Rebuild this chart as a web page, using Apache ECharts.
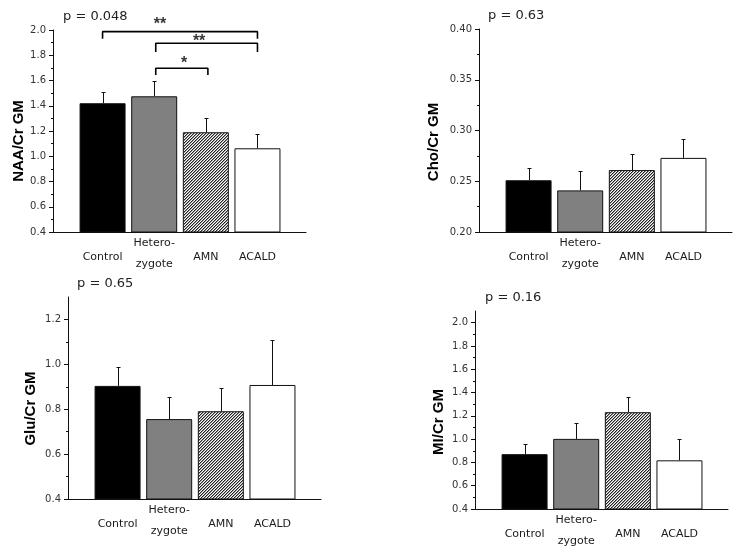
<!DOCTYPE html>
<html><head><meta charset="utf-8">
<script src="https://cdn.jsdelivr.net/npm/echarts@6/dist/echarts.min.js"></script>
<style>html,body{margin:0;padding:0;background:#fff}#c{width:739px;height:558px}</style>
</head><body><div id="c"></div>
<script>
// ---- data ----
const categories = ['Control', 'Hetero-\nzygote', 'AMN', 'ACALD'];
const naaMean = [1.42, 1.475, 1.19, 1.063];
const naaErr  = [1.505, 1.594, 1.30, 1.176];
const choMean = [0.251, 0.241, 0.261, 0.273];
const choErr  = [0.263, 0.260, 0.277, 0.292];
const gluMean = [0.904, 0.756, 0.791, 0.908];
const gluErr  = [0.989, 0.856, 0.893, 1.108];
const miMean  = [0.871, 1.002, 1.231, 0.818];
const miErr   = [0.958, 1.142, 1.362, 1.005];
const pValues = ['p = 0.048', 'p = 0.63', 'p = 0.65', 'p = 0.16'];
const yTitles = ['NAA/Cr GM', 'Cho/Cr GM', 'Glu/Cr GM', 'MI/Cr GM'];
const naaTicks = [0.4, 0.6, 0.8, 1.0, 1.2, 1.4, 1.6, 1.8, 2.0];
const choTicks = [0.20, 0.25, 0.30, 0.35, 0.40];
const gluTicks = [0.4, 0.6, 0.8, 1.0, 1.2];
const miTicks  = [0.4, 0.6, 0.8, 1.0, 1.2, 1.4, 1.6, 1.8, 2.0];
// significance brackets: [fromX, toX, barY, legY]
const naaBrackets = [[1, 4, 1.987, 1.93], [2.03, 4, 1.895, 1.826], [2.03, 3.04, 1.697, 1.644]];
const naaStars = [[2.11, 2.045, '**'], [2.87, 1.905, '**'], [2.58, 1.735, '*']];

// ---- hatch pattern ----
function makeHatch() {
  const c = document.createElement('canvas');
  c.width = 3; c.height = 3;
  const g = c.getContext('2d');
  g.fillStyle = '#fff'; g.fillRect(0, 0, 3, 3);
  for (let y = 0; y < 3; y++) {
    const x = (2 - y + 3) % 3;
    g.fillStyle = '#222';
    g.fillRect(x, y, 1, 1);
    g.fillStyle = '#9a9a9a';
    g.fillRect((x + 1) % 3, y, 1, 1);
  }
  return c;
}
const hatch = { image: makeHatch(), repeat: 'repeat' };
const fills = ['#000000', '#808080', hatch, '#ffffff'];

const panels = [
  { mean: naaMean, err: naaErr, ticks: naaTicks, min: 0.4, max: 2.0, step: 0.2, dec: 1,
    grid: { left: 53, top: 30, width: 253, height: 202 }, p: [63, 10], t: [18.5, 141] },
  { mean: choMean, err: choErr, ticks: choTicks, min: 0.2, max: 0.4, step: 0.05, dec: 2,
    grid: { left: 479, top: 29, width: 253, height: 203 }, p: [488, 9], t: [434, 142] },
  { mean: gluMean, err: gluErr, ticks: gluTicks, min: 0.4, max: 1.3, step: 0.2, dec: 1,
    grid: { left: 68, top: 297, width: 253, height: 202 }, p: [77, 277], t: [31, 408.5] },
  { mean: miMean, err: miErr, ticks: miTicks, min: 0.4, max: 2.1, step: 0.2, dec: 1,
    grid: { left: 475, top: 311, width: 253, height: 203 }, p: [485, 291], t: [439, 422] }
];

const FONT = 'DejaVu Sans';
const grids = [], xAxes = [], yAxes = [], series = [], titles = [], graphics = [];

panels.forEach((P, i) => {
  grids.push(Object.assign({ containLabel: false }, P.grid));
  xAxes.push({
    type: 'value', gridIndex: i, min: 0.04, max: 4.94,
    splitLine: { show: false },
    axisLine: { show: true, onZero: false, lineStyle: { color: '#111', width: 1 } },
    axisTick: { show: false },
    axisLabel: {
      customValues: [1, 2, 3, 4], margin: 1, color: '#1a1a1a',
      fontFamily: FONT, fontSize: 11, lineHeight: 21,
      formatter: v => {
        const s = categories[Math.round(v) - 1] || '';
        return s.indexOf('\n') >= 0 ? s : '{s|' + s + '}';
      },
      rich: { s: { lineHeight: 48, fontFamily: FONT, fontSize: 11, color: '#1a1a1a' } }
    }
  });
  const minors = [];
  for (let k = 0; k < P.ticks.length - 1; k++) minors.push((P.ticks[k] + P.ticks[k + 1]) / 2);
  yAxes.push({
    type: 'value', gridIndex: i, position: 'left', min: P.min, max: P.max, interval: P.step,
    splitLine: { show: false },
    axisLine: { show: true, onZero: false, lineStyle: { color: '#111', width: 1 } },
    axisTick: { show: true, customValues: P.ticks, length: 4, lineStyle: { color: '#111' } },
    axisLabel: { customValues: P.ticks, margin: 7, color: '#333', fontFamily: FONT, fontSize: 10,
      formatter: v => Number(v).toFixed(P.dec) }
  });
  yAxes.push({
    type: 'value', gridIndex: i, position: 'left', offset: 0, min: P.min, max: P.max,
    splitLine: { show: false }, axisLine: { show: false, onZero: false }, axisLabel: { show: false },
    axisTick: { show: true, customValues: minors, length: 2, lineStyle: { color: '#111' } }
  });
  const yi = i * 2;
  series.push({
    type: 'bar', xAxisIndex: i, yAxisIndex: yi, barWidth: 46, z: 2,
    itemStyle: { borderColor: '#111', borderWidth: 1 },
    data: P.mean.map((m, k) => ({ value: [k + 1, m], itemStyle: { color: fills[k] } }))
  });
  series.push({
    type: 'custom', xAxisIndex: i, yAxisIndex: yi, z: 3,
    data: P.mean.map((m, k) => [k + 1, m, P.err[k]]),
    renderItem: (params, api) => {
      const p0 = api.coord([api.value(0), api.value(1)]);
      const p1 = api.coord([api.value(0), api.value(2)]);
      const x = Math.round(p0[0]) + 0.5;
      const yt = Math.round(p1[1]) + 0.5;
      return { type: 'group', children: [
        { type: 'line', shape: { x1: x, y1: p0[1], x2: x, y2: yt }, style: { stroke: '#111', lineWidth: 1 } },
        { type: 'line', shape: { x1: x - 2, y1: yt, x2: x + 2, y2: yt }, style: { stroke: '#111', lineWidth: 1 } }
      ] };
    }
  });
  titles.push({ text: pValues[i], left: P.p[0], top: P.p[1], padding: 0,
    textStyle: { fontFamily: FONT, fontSize: 13, fontWeight: 'normal', color: '#222' } });
  graphics.push({ type: 'text', x: P.t[0], y: P.t[1], rotation: Math.PI / 2,
    style: { text: yTitles[i], fontFamily: 'Liberation Sans', fontSize: 15, fontWeight: 'bold', fill: '#000',
      align: 'center', verticalAlign: 'middle', textAlign: 'center', textVerticalAlign: 'middle' } });
});

naaBrackets.forEach(b => {
  series.push({
    type: 'line', xAxisIndex: 0, yAxisIndex: 0, symbol: 'none', clip: false, z: 4,
    lineStyle: { color: '#000', width: 1.6 },
    data: [[b[0], b[3]], [b[0], b[2]], [b[1], b[2]], [b[1], b[3]]]
  });
});
series.push({
  type: 'scatter', xAxisIndex: 0, yAxisIndex: 0, clip: false, symbolSize: 1, z: 4,
  itemStyle: { color: 'rgba(0,0,0,0)' },
  data: naaStars,
  label: { show: true, position: 'inside', formatter: p => p.data[2],
    fontFamily: 'Liberation Sans', fontWeight: 'bold', fontSize: 16, color: '#000' }
});

const chart = echarts.init(document.getElementById('c'), null, { renderer: 'canvas' });
chart.setOption({
  animation: false,
  backgroundColor: '#fff',
  textStyle: { fontFamily: FONT },
  title: titles,
  grid: grids,
  xAxis: xAxes,
  yAxis: yAxes,
  series: series,
  graphic: graphics
});
</script></body></html>
